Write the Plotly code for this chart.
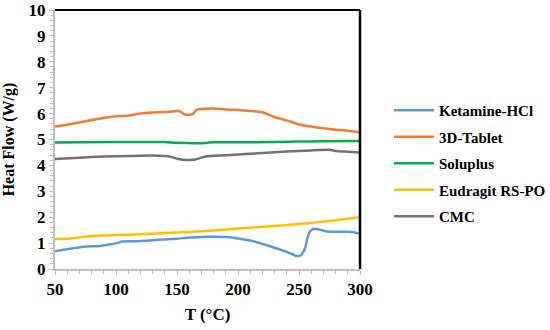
import plotly.graph_objects as go

# Data
ket_x = [50, 57, 65, 72, 80, 87, 95, 100, 105, 110, 120, 130, 140, 150, 160, 170, 180, 190, 195, 200, 210, 220, 230, 240, 245, 248, 251, 253, 255, 257, 259, 261, 263, 267, 272, 280, 290, 295, 300]
ket_y = [0.68, 0.74, 0.8, 0.85, 0.88, 0.89, 0.95, 0.99, 1.06, 1.07, 1.08, 1.11, 1.14, 1.17, 1.22, 1.24, 1.25, 1.24, 1.22, 1.18, 1.1, 0.97, 0.82, 0.66, 0.56, 0.5, 0.52, 0.62, 0.8, 1.2, 1.45, 1.53, 1.55, 1.52, 1.46, 1.44, 1.44, 1.42, 1.36]

tab_x = [50, 60, 70, 80, 90, 100, 110, 120, 130, 140, 150, 153, 156, 160, 163, 166, 170, 180, 190, 200, 210, 215, 220, 225, 230, 240, 250, 260, 270, 280, 290, 300]
tab_y = [5.5, 5.57, 5.66, 5.75, 5.83, 5.9, 5.92, 6.0, 6.04, 6.06, 6.1, 6.08, 5.97, 5.96, 5.98, 6.15, 6.18, 6.2, 6.16, 6.14, 6.1, 6.08, 6.05, 5.96, 5.86, 5.74, 5.58, 5.5, 5.43, 5.38, 5.34, 5.27]

sol_x = [50, 100, 140, 150, 170, 180, 230, 250, 270, 300]
sol_y = [4.88, 4.9, 4.9, 4.87, 4.86, 4.89, 4.9, 4.92, 4.93, 4.94]

eud_x = [50, 60, 70, 80, 100, 120, 140, 160, 180, 200, 220, 240, 260, 280, 300]
eud_y = [1.16, 1.17, 1.22, 1.27, 1.31, 1.34, 1.39, 1.43, 1.49, 1.56, 1.63, 1.7, 1.78, 1.88, 2.0]

cmc_x = [50, 70, 90, 110, 130, 140, 145, 150, 155, 160, 165, 170, 175, 180, 200, 220, 240, 260, 275, 280, 290, 300]
cmc_y = [4.25, 4.3, 4.34, 4.36, 4.38, 4.36, 4.33, 4.26, 4.22, 4.21, 4.23, 4.3, 4.35, 4.37, 4.42, 4.48, 4.54, 4.58, 4.6, 4.56, 4.53, 4.5]

series = [
    ("Ketamine-HCl", ket_x, ket_y, "#5B9BD5"),
    ("3D-Tablet", tab_x, tab_y, "#ED7D31"),
    ("Soluplus", sol_x, sol_y, "#00B050"),
    ("Eudragit RS-PO", eud_x, eud_y, "#FFC000"),
    ("CMC", cmc_x, cmc_y, "#757171"),
]

fig = go.Figure()
for i, (name, xs, ys, col) in enumerate(series):
    fig.add_trace(go.Scatter(x=xs, y=ys, mode="lines", name=name, legendgroup=f"g{i}",
                             line=dict(color=col, width=2.5, shape="spline", smoothing=0.4)))

font_family = "Liberation Serif"
fig.update_layout(
    width=550, height=330, autosize=False,
    margin=dict(l=55, r=190, t=10, b=61, autoexpand=False),
    paper_bgcolor="white", plot_bgcolor="white",
    font=dict(family=font_family, color="black"),
    legend=dict(x=1.095, y=0.407, xanchor="left", yanchor="middle",
                font=dict(family=font_family, size=15, color="black", weight="bold"),
                tracegroupgap=4, itemwidth=40, bgcolor="rgba(0,0,0,0)"),
    showlegend=True,
)
fig.update_xaxes(
    range=[50, 300], dtick=50, tick0=50, automargin=False, ticklabeloverflow="allow",
    showgrid=False, zeroline=False,
    showline=True, linecolor="#BFBFBF", linewidth=2,
    ticks="outside", ticklen=4, tickcolor="#BFBFBF",
    minor=dict(dtick=10, ticks="outside", ticklen=3, tickcolor="#BFBFBF"),
    tickfont=dict(family=font_family, size=17, color="black", weight="bold"),
    title=dict(text="T (°C)", font=dict(family=font_family, size=17, color="black", weight="bold"), standoff=10),
)
fig.update_yaxes(
    range=[0, 10], dtick=1, automargin=False, ticklabeloverflow="allow",
    showgrid=False, zeroline=False,
    showline=True, linecolor="#BFBFBF", linewidth=2,
    ticks="outside", ticklen=4, tickcolor="#BFBFBF",
    minor=dict(dtick=0.2, ticks="outside", ticklen=3, tickcolor="#BFBFBF"),
    tickfont=dict(family=font_family, size=17, color="black", weight="bold"),
    title=dict(text="Heat Flow (W/g)", font=dict(family=font_family, size=16, color="black", weight="bold"), standoff=10),
)
# top and right black border
fig.add_shape(type="line", xref="x domain", yref="y domain", x0=0, x1=1, y0=1, y1=1,
              line=dict(color="black", width=2))
fig.add_shape(type="line", xref="x domain", yref="y domain", x0=1, x1=1, y0=0, y1=1,
              line=dict(color="black", width=2.5))

# remove the default page margin and scrollbars so the figure sits at the window's corner
fig.write_html("out.html",
               config={"displayModeBar": False, "responsive": False},
               post_script="document.body.style.margin='0';document.body.style.overflow='hidden';")
